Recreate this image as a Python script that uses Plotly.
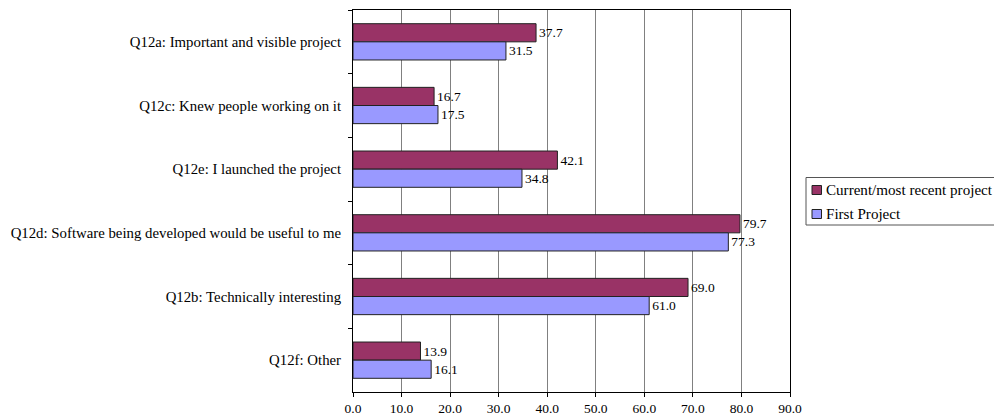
import plotly.graph_objects as go

categories = [
    "Q12a: Important and visible project",
    "Q12c: Knew people working on it",
    "Q12e: I launched the project",
    "Q12d: Software being developed would be useful to me",
    "Q12b: Technically interesting",
    "Q12f: Other",
]
current_vals = [37.7, 16.7, 42.1, 79.7, 69.0, 13.9]
first_vals = [31.5, 17.5, 34.8, 77.3, 61.0, 16.1]
series_names = ["Current/most recent project", "First Project"]
series_colors = ["#993366", "#9999FF"]
x_ticks = [0, 10, 20, 30, 40, 50, 60, 70, 80, 90]

FONT = "Liberation Serif, Times New Roman, serif"
W, H = 994, 417
ML, MR, MT, MB = 353, 204, 10, 25
PW, PH = W - ML - MR, H - MT - MB


def px_x(px):
    return (px - ML) / PW


def px_y(py):
    return (H - MB - py) / PH


fig = go.Figure()
for name, vals, col in zip(series_names, [current_vals, first_vals], series_colors):
    fig.add_trace(go.Bar(
        y=categories, x=vals, orientation="h", name=name,
        marker=dict(color=col, line=dict(color="#222222", width=1)),
        texttemplate="%{x:.1f}", textposition="outside",
        textfont=dict(family=FONT, size=13.5, color="black"), cliponaxis=False,
        showlegend=False,
    ))

# custom legend (box, swatches, labels)
shapes = [dict(type="rect", xref="paper", yref="paper",
               x0=px_x(806), x1=px_x(996), y0=px_y(225), y1=px_y(177.5),
               line=dict(color="#555555", width=1), fillcolor="white", layer="above")]
annotations = []
for i, (name, col) in enumerate(zip(series_names, series_colors)):
    cy = 190 + 24 * i
    shapes.append(dict(type="rect", xref="paper", yref="paper",
                       x0=px_x(812), x1=px_x(821.5), y0=px_y(cy + 4.5), y1=px_y(cy - 4.5),
                       line=dict(color="#222222", width=1), fillcolor=col, layer="above"))
    annotations.append(dict(xref="paper", yref="paper", x=px_x(824), y=px_y(cy),
                            xanchor="left", yanchor="middle", text=name, showarrow=False,
                            font=dict(family=FONT, size=15.1, color="black")))

fig.update_layout(
    width=W, height=H,
    margin=dict(l=ML, r=MR, t=MT, b=MB, autoexpand=False),
    paper_bgcolor="white", plot_bgcolor="white",
    barmode="group", bargap=0.43, bargroupgap=0,
    font=dict(family=FONT, size=13, color="black"),
    showlegend=False,
    shapes=shapes, annotations=annotations,
)
fig.update_xaxes(
    range=[0, 90], tickvals=x_ticks, tickformat=".1f", automargin=False,
    showgrid=True, gridcolor="#808080", gridwidth=1,
    showline=True, linecolor="black", linewidth=1, mirror=True,
    ticks="outside", ticklen=4, tickcolor="black", ticklabelstandoff=0,
    zeroline=False, tickfont=dict(family=FONT, size=13.5, color="black"),
)
fig.update_yaxes(
    autorange="reversed", type="category", automargin=False,
    tickson="boundaries", ticks="outside", ticklen=4, tickcolor="black",
    showgrid=False, showline=True, linecolor="black", linewidth=1, mirror=True,
    ticklabelstandoff=8,
    tickfont=dict(family=FONT, size=14.8, color="black"),
)

fig.write_html("out.html")
